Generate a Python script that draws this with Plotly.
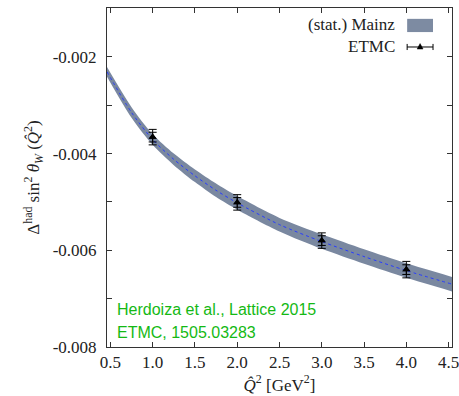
import plotly.graph_objects as go

# Mainz band
q2_band = [0.46, 0.75, 1.0, 1.25, 1.5, 1.75, 2.0, 2.5, 3.0, 3.5, 4.0, 4.54]
band_center = [-0.00231, -0.00315, -0.00371, -0.00412, -0.00446, -0.00476,
               -0.00502, -0.00547, -0.00582, -0.00613, -0.00642, -0.00670]
band_half = [0.00010, 0.00011, 0.00011, 0.00012, 0.00013, 0.00014,
             0.00014, 0.00014, 0.00015, 0.00015, 0.00015, 0.00015]

# ETMC points
q2_etmc = [1.0, 2.0, 3.0, 4.0]
etmc_val = [-0.00366, -0.00501, -0.00580, -0.00640]
etmc_err_tot = [0.00016, 0.00016, 0.00016, 0.00017]
etmc_err_stat = [0.00010, 0.00010, 0.00010, 0.00010]

xticks = [0.5, 1.0, 1.5, 2.0, 2.5, 3.0, 3.5, 4.0, 4.5]
yticks = [-0.008, -0.006, -0.004, -0.002]
yticktext = ["-0.008", "-0.006", "-0.004", "-0.002"]
yminor = [-0.007, -0.005, -0.003, -0.001]

upper = [c + h for c, h in zip(band_center, band_half)]
lower = [c - h for c, h in zip(band_center, band_half)]

band_col = "rgb(122,136,160)"
fig = go.Figure()
fig.add_trace(go.Scatter(x=q2_band, y=upper, mode="lines", line=dict(width=0, shape="spline", smoothing=0.8),
                         showlegend=False, hoverinfo="skip"))
fig.add_trace(go.Scatter(x=q2_band, y=lower, mode="lines", line=dict(width=0, shape="spline", smoothing=0.8),
                         fill="tonexty", fillcolor=band_col, showlegend=False, hoverinfo="skip"))
fig.add_trace(go.Scatter(x=q2_band, y=band_center, mode="lines",
                         line=dict(color="rgb(40,60,255)", width=1, dash="dot", shape="spline", smoothing=0.8),
                         showlegend=False, hoverinfo="skip"))
fig.add_trace(go.Scatter(x=q2_etmc, y=etmc_val, mode="markers",
                         marker=dict(symbol="triangle-up", size=7, color="black"),
                         error_y=dict(type="data", array=etmc_err_tot, color="black", thickness=1, width=4),
                         showlegend=False))
fig.add_trace(go.Scatter(x=q2_etmc, y=etmc_val, mode="markers",
                         marker=dict(symbol="triangle-up", size=7, color="black"),
                         error_y=dict(type="data", array=etmc_err_stat, color="black", thickness=1, width=4),
                         showlegend=False))

serif = "Liberation Serif, DejaVu Serif, serif"
fig.update_layout(
    width=459, height=396,
    margin=dict(l=107, r=7, t=8, b=49),
    plot_bgcolor="white", paper_bgcolor="white",
    font=dict(family=serif, size=17, color="#222"),
    xaxis=dict(range=[0.46, 4.54], tickvals=xticks, tickformat=".1f",
               ticks="inside", ticklen=5, tickcolor="#333", mirror="ticks",
               ticklabeloverflow="allow", automargin=False,
               showline=True, linecolor="#333", linewidth=1, showgrid=False, zeroline=False,
               title=dict(text="<i>Q̂</i><sup>2</sup> [GeV<sup>2</sup>]", standoff=6,
                          font=dict(family=serif, size=17))),
    yaxis=dict(range=[-0.008, -0.00099], tickvals=yticks, ticktext=yticktext,
               ticks="inside", ticklen=5, tickcolor="#333", mirror="ticks",
               ticklabelstandoff=6, automargin=False,
               minor=dict(tickvals=yminor, ticks="inside", ticklen=5, tickcolor="#333"),
               showline=True, linecolor="#333", linewidth=1, showgrid=False, zeroline=False,
               title=dict(text="Δ<sup>had</sup> sin<sup>2</sup> <i>θ<sub>W</sub></i> (<i>Q̂</i><sup>2</sup>)",
                          standoff=8, font=dict(family=serif, size=17))),
)

# manual legend (text on left, symbol on right)
fig.add_annotation(xref="paper", yref="paper", x=0.841, y=0.950, xanchor="right", yanchor="middle",
                   text="(stat.) Mainz", showarrow=False, font=dict(family=serif, size=17, color="#222"))
fig.add_annotation(xref="paper", yref="paper", x=0.841, y=0.885, xanchor="right", yanchor="middle",
                   text="ETMC", showarrow=False, font=dict(family=serif, size=17, color="#222"))
fig.add_shape(type="rect", xref="paper", yref="paper", x0=0.870, x1=0.945, y0=0.929, y1=0.968,
              fillcolor="rgb(125,139,162)", line=dict(width=0))
fig.add_shape(type="line", xref="paper", yref="paper", x0=0.870, x1=0.945, y0=0.885, y1=0.885,
              line=dict(color="black", width=1))
fig.add_shape(type="line", xref="paper", yref="paper", x0=0.870, x1=0.870, y0=0.876, y1=0.894,
              line=dict(color="black", width=1))
fig.add_shape(type="line", xref="paper", yref="paper", x0=0.945, x1=0.945, y0=0.876, y1=0.894,
              line=dict(color="black", width=1))
fig.add_shape(type="path", xref="paper", yref="paper",
              path="M 0.899 0.879 L 0.916 0.879 L 0.9075 0.895 Z",
              fillcolor="black", line=dict(color="black", width=0.5))

green = "rgb(20,185,20)"
fig.add_annotation(xref="paper", yref="paper", x=0.023, y=0.11, xanchor="left", yanchor="middle",
                   text="Herdoiza et al., Lattice 2015", showarrow=False,
                   font=dict(family="Liberation Sans, Arial, sans-serif", size=16, color=green))
fig.add_annotation(xref="paper", yref="paper", x=0.023, y=0.042, xanchor="left", yanchor="middle",
                   text="ETMC, 1505.03283", showarrow=False,
                   font=dict(family="Liberation Sans, Arial, sans-serif", size=16, color=green))

fig.write_html("out.html")
